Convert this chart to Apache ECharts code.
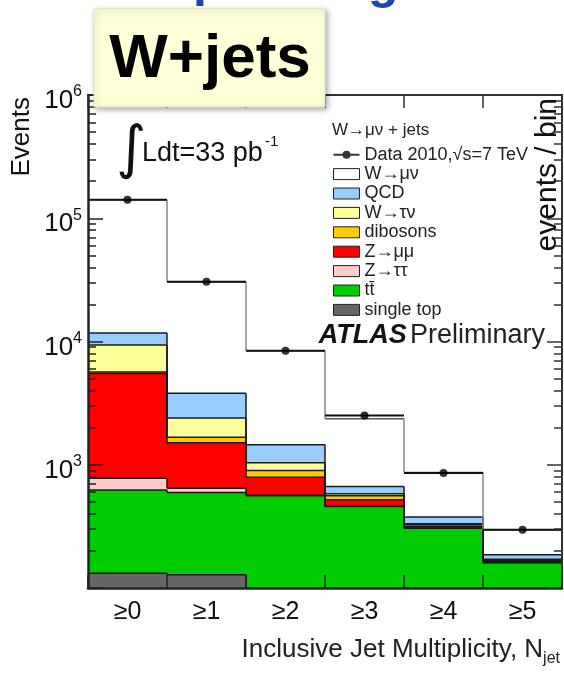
<!DOCTYPE html>
<html><head><meta charset="utf-8">
<script src="https://cdn.jsdelivr.net/npm/echarts@6/dist/echarts.min.js"></script>
<style>html,body{margin:0;padding:0;background:#fff}#c{width:564px;height:674px}</style>
</head><body><div id="c"></div>
<script>
// ---------------- data ----------------
const categories = ['≥0', '≥1', '≥2', '≥3', '≥4', '≥5'];
// per-component event counts, bottom of the stack first
const singleTop = [132, 128, 40, 30, 15, 8];
const ttbar     = [493, 468, 520, 428, 291, 152];
const zTauTau   = [153, 50, 5, 3, 1, 1];
const zMuMu     = [4722, 864, 228, 58, 9, 3];
const dibosons  = [150, 160, 105, 41, 10, 4];
const wTauNu    = [3720, 720, 142, 21, 6, 3];
const qcd       = [2330, 1420, 410, 84, 44, 15];
const wMuNu     = [129300, 26790, 6980, 1695, 489, 111];
const data2010  = [141000, 30600, 8430, 2510, 859, 297];
const yExponents = [2, 3, 4, 5, 6];          // decades of the log axis
const yLabelled  = [3, 4, 5, 6];             // decades that carry a label

const componentNames  = ['single top', 'tt\u0304', 'Z\u2192\u03c4\u03c4', 'Z\u2192\u03bc\u03bc', 'dibosons', 'W\u2192\u03c4\u03bd', 'QCD', 'W\u2192\u03bc\u03bd'];
const componentValues = [singleTop, ttbar, zTauTau, zMuMu, dibosons, wTauNu, qcd, wMuNu];
const componentColors = ['#666666', '#00cc00', '#ffcccc', '#ff0000', '#ffcc00', '#ffff99', '#99ccff', '#ffffff'];
const DATA_NAME = 'Data 2010,\u221as=7 TeV';

// ---------------- helpers ----------------
const FONT = 'Liberation Sans, Arial, Helvetica, sans-serif';
const Y_MIN = yExponents[0], Y_MAX = yExponents[yExponents.length - 1];
const lg = v => Math.max(Math.log10(Math.max(v, 1e-9)), Y_MIN);

// cumulative stack
const cumLow = [], cumHigh = [];
componentValues.forEach((vals, k) => {
  cumLow.push(vals.map((v, i) => k === 0 ? 0 : cumHigh[k - 1][i]));
  cumHigh.push(vals.map((v, i) => cumLow[k][i] + v));
});

// minor ticks (2..9 x 10^n) in log space
const minorTicks = [];
for (let n = Y_MIN; n < Y_MAX; n++) for (let m = 2; m <= 9; m++) minorTicks.push(Math.log10(m * Math.pow(10, n)));

const series = [];
// fills
componentNames.forEach((name, k) => {
  series.push({
    type: 'custom', name, z: 2,
    itemStyle: { color: componentColors[k] },
    data: categories.map((c, i) => [i, cumLow[k][i], cumHigh[k][i]]),
    encode: { x: 0, y: 2 },
    renderItem: (params, api) => {
      const i = api.value(0);
      const pHi = api.coord([i, lg(api.value(2))]);
      const pLo = api.coord([i, lg(api.value(1))]);
      const w = api.size([1, 0])[0];
      return { type: 'rect', shape: { x: pHi[0] - w / 2, y: pHi[1], width: w, height: pLo[1] - pHi[1] },
               style: { fill: componentColors[k] } };
    }
  });
});
// step outlines of every cumulative histogram
const outlineData = [];
componentNames.forEach((name, k) => {
  categories.forEach((c, i) => outlineData.push([i, cumHigh[k][i], i > 0 ? cumHigh[k][i - 1] : cumHigh[k][i], k]));
});
series.push({
  type: 'custom', name: 'outline', z: 3, silent: true,
  data: outlineData, encode: { x: 0, y: 1 },
  renderItem: (params, api) => {
    const i = api.value(0), k = api.value(3);
    const p = api.coord([i, lg(api.value(1))]);
    const pPrev = api.coord([i, lg(api.value(2))]);
    const w = api.size([1, 0])[0];
    const top = k === componentNames.length - 1;
    const col = top ? '#555' : '#1a1a1a';
    const children = [{ type: 'line', shape: { x1: p[0] - w / 2, y1: p[1], x2: p[0] + w / 2, y2: p[1] },
                        style: { stroke: col, lineWidth: 1.5 } }];
    if (i > 0) children.push({ type: 'line', shape: { x1: p[0] - w / 2, y1: pPrev[1], x2: p[0] - w / 2, y2: p[1] },
                               style: { stroke: top ? '#888' : '#1a1a1a', lineWidth: 1.5 } });
    return { type: 'group', children };
  }
});
// data: horizontal error bars + markers
series.push({
  type: 'custom', name: 'dataBars', z: 4, silent: true,
  data: categories.map((c, i) => [i, data2010[i]]), encode: { x: 0, y: 1 },
  renderItem: (params, api) => {
    const i = api.value(0);
    const p = api.coord([i, lg(api.value(1))]);
    const w = api.size([1, 0])[0];
    return { type: 'line', shape: { x1: p[0] - w / 2, y1: p[1], x2: p[0] + w / 2, y2: p[1] },
             style: { stroke: '#111', lineWidth: 2 } };
  }
});
series.push({
  type: 'scatter', name: DATA_NAME, z: 5,
  data: categories.map((c, i) => [i, Math.log10(data2010[i])]),
  symbol: 'circle', symbolSize: 8, itemStyle: { color: '#000' }
});

const legendData = [{ name: DATA_NAME, icon: 'path://M0,4 L26,4 L26,6 L0,6 Z M13,1 A4,4 0 1 1 13,9 A4,4 0 1 1 13,1 Z',
                      itemStyle: { color: '#000', borderWidth: 0 } }];
for (let k = componentNames.length - 1; k >= 0; k--) {
  legendData.push({ name: componentNames[k], icon: 'rect',
                    itemStyle: { color: componentColors[k], borderColor: '#222', borderWidth: 1 } });
}

const yAxisBase = { type: 'value', min: Y_MIN, max: Y_MAX, interval: 1, splitLine: { show: false }, z: 10 };
const option = {
  animation: false,
  grid: { left: 88, right: 2, top: 95, bottom: 86 },
  xAxis: [
    { type: 'category', data: categories, position: 'bottom', z: 10,
      axisLine: { show: true, lineStyle: { color: '#222', width: 2.5 } },
      axisTick: { show: true, inside: true, length: 13, lineStyle: { color: '#222', width: 1.5 } },
      axisLabel: { fontSize: 25, color: '#111', margin: 12, fontFamily: FONT } },
    { type: 'category', data: categories, position: 'top', z: 10,
      axisLine: { show: true, lineStyle: { color: '#333', width: 2 } },
      axisTick: { show: true, inside: true, length: 13, lineStyle: { color: '#333', width: 1.5 } },
      axisLabel: { show: false } }
  ],
  yAxis: [
    Object.assign({}, yAxisBase, {
      position: 'left',
      axisLine: { show: true, lineStyle: { color: '#222', width: 2.5 } },
      axisTick: { show: true, inside: true, length: 15, lineStyle: { color: '#222', width: 1.5 } },
      axisLabel: { margin: 6, padding: [8, 0, 0, 0], fontFamily: FONT,
        formatter: v => yLabelled.indexOf(v) >= 0 ? '{b|10}{s|' + v + '}' : '',
        rich: { b: { fontSize: 26, lineHeight: 30, color: '#111', fontFamily: FONT, verticalAlign: 'bottom' },
                s: { fontSize: 16, lineHeight: 16, color: '#111', fontFamily: FONT, verticalAlign: 'top' } } } }),
    Object.assign({}, yAxisBase, {
      position: 'left', axisLine: { show: false },
      axisTick: { show: true, inside: true, length: 8, customValues: minorTicks, lineStyle: { color: '#222', width: 1.5 } },
      axisLabel: { show: false } }),
    Object.assign({}, yAxisBase, {
      position: 'right',
      axisLine: { show: true, lineStyle: { color: '#333', width: 2 } },
      axisTick: { show: true, inside: true, length: 15, lineStyle: { color: '#333', width: 1.5 } },
      axisLabel: { show: false } }),
    Object.assign({}, yAxisBase, {
      position: 'right', axisLine: { show: false },
      axisTick: { show: true, inside: true, length: 8, customValues: minorTicks, lineStyle: { color: '#333', width: 1.5 } },
      axisLabel: { show: false } })
  ],
  legend: {
    left: 328, top: 140, orient: 'vertical', itemWidth: 26, itemHeight: 11, itemGap: 0,
    selectedMode: false, data: legendData,
    textStyle: { fontSize: 18, lineHeight: 19.4, color: '#222', fontFamily: FONT }
  },
  series,
  graphic: [
    // cut-off slide heading
    { type: 'text', left: 193, top: -43, z: 50, style: { text: 'p', font: 'bold 50px ' + FONT, fill: '#1f45b0' } },
    { type: 'text', left: 368, top: -41, z: 50, style: { text: 'g', font: 'bold 50px ' + FONT, fill: '#1f45b0' } },
    // W+jets box
    { type: 'rect', shape: { x: 94, y: 9, width: 231, height: 98 }, z: 100,
      style: { fill: '#ffffd8', stroke: '#e6e6b8', lineWidth: 1, shadowBlur: 6, shadowOffsetX: 2, shadowOffsetY: 2, shadowColor: 'rgba(0,0,0,0.35)' } },
    { type: 'text', x: 210, y: 60, z: 101,
      style: { text: 'W+jets', font: 'bold 62px ' + FONT, fill: '#000', align: 'center', verticalAlign: 'middle' } },
    // y axis title
    { type: 'text', x: 22, y: 97, rotation: Math.PI / 2, z: 20,
      style: { text: 'Events', font: '26px ' + FONT, fill: '#111', align: 'right', verticalAlign: 'middle' } },
    // luminosity
    { type: 'text', x: 131, y: 152, z: 20,
      style: { text: '\u222b', font: '58px DejaVu Sans', fill: '#111', align: 'center', verticalAlign: 'middle' } },
    { type: 'text', x: 142, y: 154, z: 20,
      style: { text: 'Ldt=33 pb', font: '27px ' + FONT, fill: '#111', align: 'left', verticalAlign: 'middle' } },
    { type: 'text', x: 265, y: 142, z: 20,
      style: { text: '-1', font: '15px ' + FONT, fill: '#111', align: 'left', verticalAlign: 'middle' } },
    // legend header
    { type: 'text', x: 332, y: 130, z: 20,
      style: { text: 'W\u2192\u03bc\u03bd + jets', font: '17px ' + FONT, fill: '#222', align: 'left', verticalAlign: 'middle' } },
    // ATLAS Preliminary
    { type: 'text', x: 545, y: 336, z: 20,
      style: { text: '{a|ATLAS} {p|Preliminary}', align: 'right', verticalAlign: 'middle',
               rich: { a: { font: 'italic bold 27px ' + FONT, fill: '#111' }, p: { font: '27px ' + FONT, fill: '#222' } } } },
    // events / bin
    { type: 'text', x: 548, y: 98, rotation: Math.PI / 2, z: 20,
      style: { text: 'events / bin', font: '30px ' + FONT, fill: '#111', align: 'right', verticalAlign: 'middle' } },
    // x axis title
    { type: 'text', x: 560, y: 652, z: 20,
      style: { text: '{m|Inclusive Jet Multiplicity, N}{s|jet}', align: 'right', verticalAlign: 'middle',
               rich: { m: { font: '26px ' + FONT, fill: '#222', lineHeight: 30, verticalAlign: 'top' },
                       s: { font: '16px ' + FONT, fill: '#222', lineHeight: 16, padding: [14, 0, 0, 0] } } } }
  ]
};
const chart = echarts.init(document.getElementById('c'), null, { renderer: 'canvas' });
chart.setOption(option);
</script>
</body></html>
